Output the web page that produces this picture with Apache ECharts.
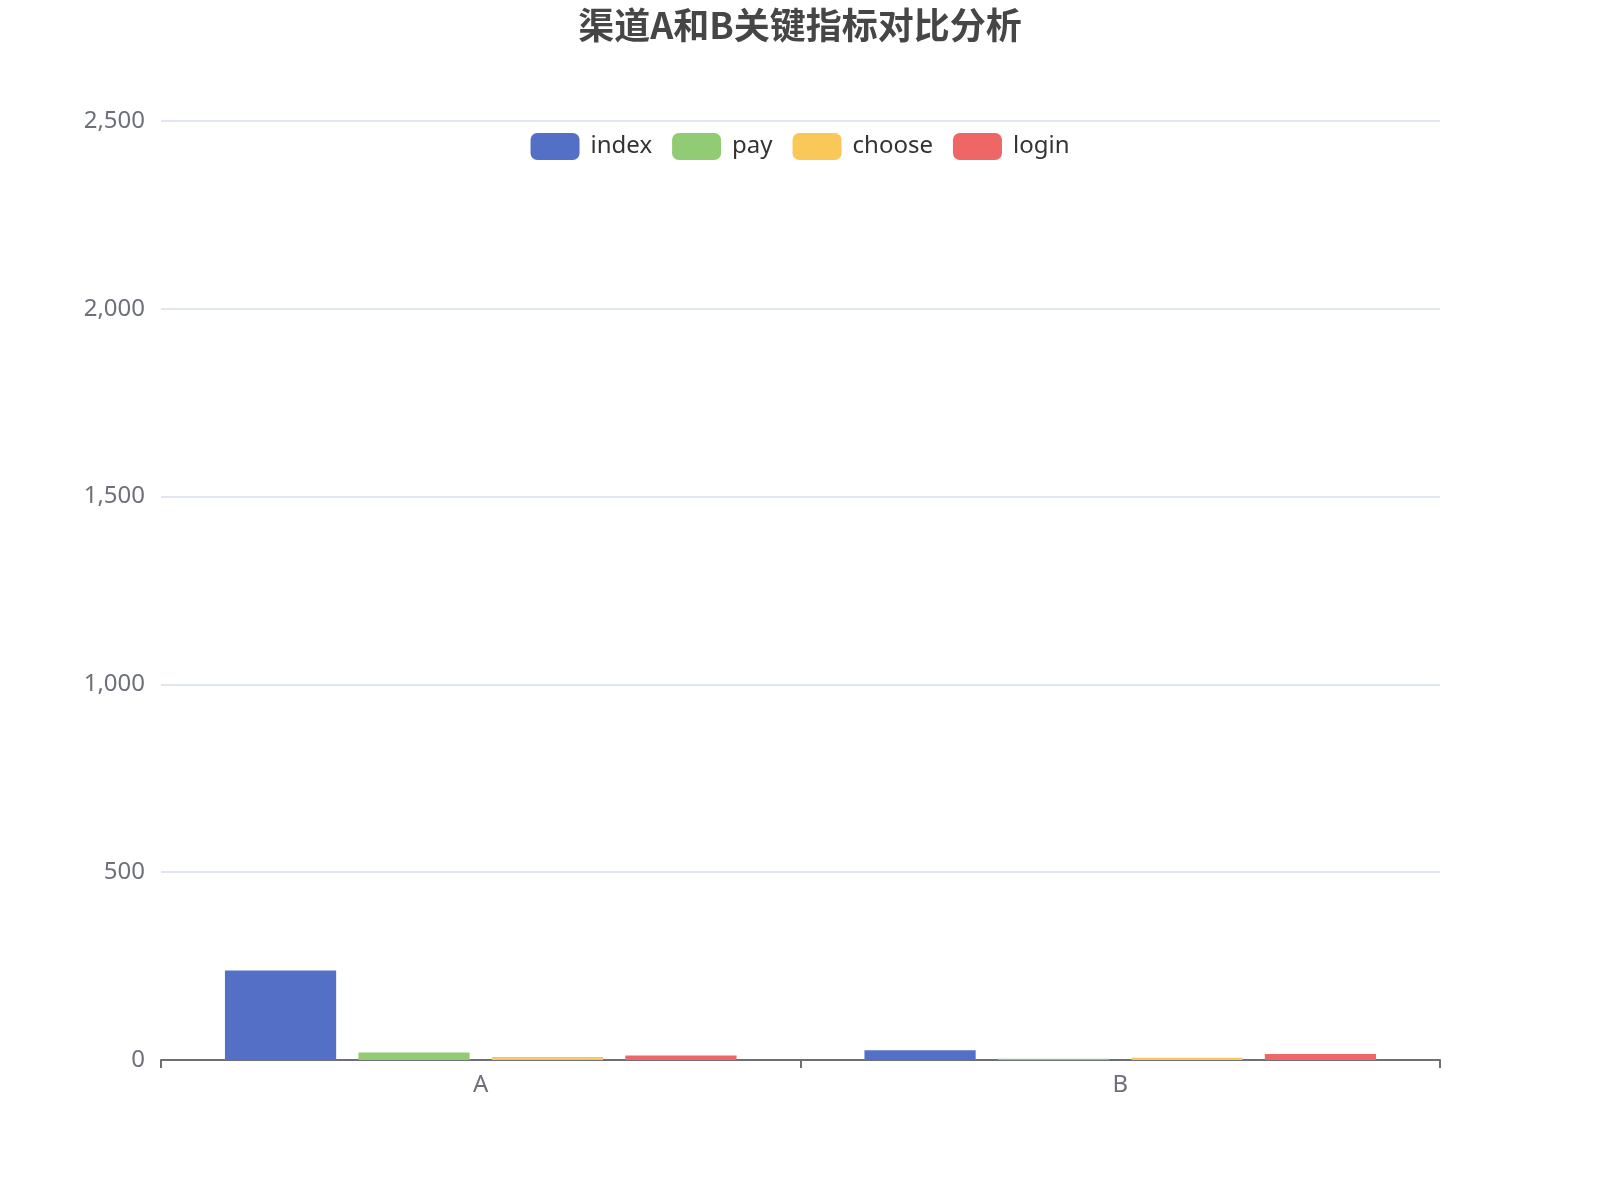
<!DOCTYPE html>
<html>
<head>
<meta charset="utf-8">
<title>渠道A和B关键指标对比分析</title>
<script src="https://cdn.jsdelivr.net/npm/echarts@6/dist/echarts.min.js"></script>
<style>
  html, body { margin: 0; padding: 0; background: #fff; }
  #container { width: 1600px; height: 1200px; }
</style>
</head>
<body>
<div id="container"></div>
<script>
// 渠道
var channels = ['A', 'B'];
// 各指标数值（按渠道A、B）
var indexData = [238, 26];
var payData = [20, 3];
var chooseData = [8, 6];
var loginData = [12, 16];
var seriesNames = ['index', 'pay', 'choose', 'login'];
var palette = ['#5470c6', '#91cc75', '#fac858', '#ee6666'];

var myChart = echarts.init(document.getElementById('container'));

function makeSeries(name, data) {
	return {
		name: name,
		type: 'bar',
		barGap: '20%',
		barCategoryGap: '20%',
		data: data
	};
}

var option = {
	color: palette,
	textStyle: {
		fontFamily: "'Noto Sans', 'Noto Sans CJK SC', sans-serif"
	},
	title: {
		text: '渠道A和B关键指标对比分析',
		left: 'center',
		top: 2,
		textStyle: {
			fontSize: 36,
			fontWeight: 'bold',
			color: '#464646',
			fontFamily: "'Noto Sans CJK SC', sans-serif"
		}
	},
	legend: {
		data: seriesNames,
		top: 128,
		left: 'center',
		itemWidth: 49,
		itemHeight: 27,
		itemGap: 20,
		textStyle: {
			fontSize: 24,
			color: '#333',
			padding: [0, 0, 0, 6]
		}
	},
	grid: {
		left: 161,
		right: 160,
		top: 121,
		bottom: 140
	},
	xAxis: {
		type: 'category',
		data: channels,
		axisLine: { lineStyle: { color: '#6E7079', width: 2 } },
		axisTick: { show: true, length: 8, lineStyle: { color: '#6E7079', width: 2 } },
		axisLabel: { fontSize: 24, color: '#6E7079', margin: 13 }
	},
	yAxis: {
		type: 'value',
		min: 0,
		max: 2500,
		interval: 500,
		axisLabel: { fontSize: 24, color: '#6E7079', margin: 16 },
		splitLine: { lineStyle: { color: '#E0E6F1', width: 2 } }
	},
	series: [
		makeSeries('index', indexData),
		makeSeries('pay', payData),
		makeSeries('choose', chooseData),
		makeSeries('login', loginData)
	]
};
myChart.setOption(option);
</script>
</body>
</html>
